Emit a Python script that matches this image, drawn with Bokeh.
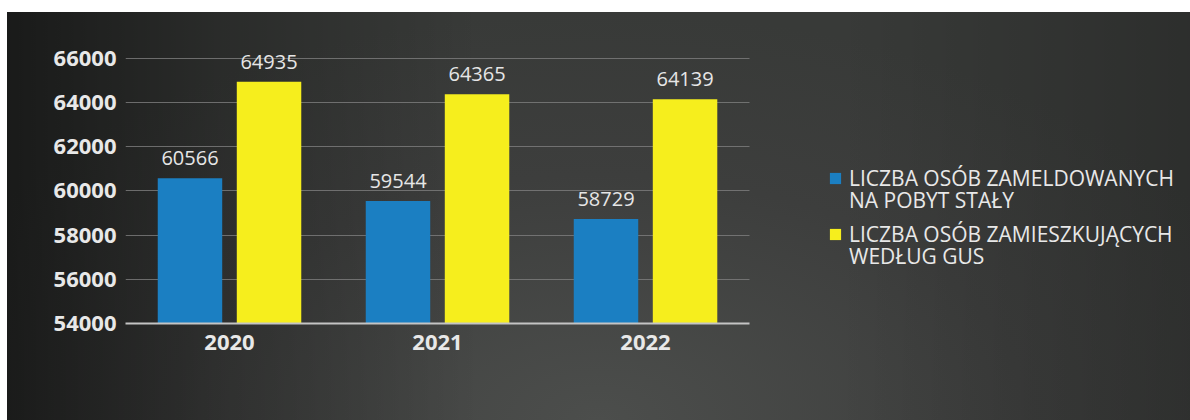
from bokeh.plotting import figure
from bokeh.models import Range1d, FixedTicker, Legend, LegendItem, ColumnDataSource
from bokeh.core.properties import value
from bokeh.embed import file_html
from bokeh.resources import INLINE

years = ["2020", "2021", "2022"]
zameldowani = [60566, 59544, 58729]
gus = [64935, 64365, 64139]
y_ticks = [54000, 56000, 58000, 60000, 62000, 64000, 66000]
series_lines = [["LICZBA OSÓB ZAMELDOWANYCH", "NA POBYT STAŁY"],
                ["LICZBA OSÓB ZAMIESZKUJĄCYCH", "WEDŁUG GUS"]]
colors = ["#1b7fc2", "#f6ee1d"]

idx = list(range(len(years)))
off = 0.19
bw = 0.31
src = ColumnDataSource(dict(
    x1=[i - off for i in idx], x2=[i + off for i in idx],
    zam=zameldowani, gus=gus,
    zam_t=[str(v) for v in zameldowani], gus_t=[str(v) for v in gus],
))

# plot area spans the whole right side so the legend is not clipped;
# the categories occupy x in [-0.5, 2.5]
p = figure(x_range=Range1d(-0.5, 4.62), y_range=Range1d(54000, 66800),
           width=1183, height=408, output_backend="svg", toolbar_location=None,
           min_border_left=118, min_border_right=0, min_border_top=28, min_border_bottom=97)
p.styles = {
    "margin-top": "12px",
    "margin-left": "7px",
    "background": ("linear-gradient(to right, rgba(0,0,0,0.55) 0%, rgba(0,0,0,0.25) 18%, "
                   "rgba(0,0,0,0) 40%, rgba(0,0,0,0) 70%, rgba(0,0,0,0.2) 100%), "
                   "radial-gradient(ellipse 60% 100% at 50% 100%, #4c4e4c 0%, #3d3e3d 60%, #383a38 100%)")
}
p.border_fill_color = None
p.background_fill_color = None
p.outline_line_color = None

r1 = p.vbar(x="x1", top="zam", bottom=54000, width=bw, source=src,
            fill_color=colors[0], line_color=None)
r2 = p.vbar(x="x2", top="gus", bottom=54000, width=bw, source=src,
            fill_color=colors[1], line_color=None)
# empty, invisible renderer used only for the second line of each legend entry
blank = p.vbar(x=[], top=[], width=bw, fill_alpha=0, line_alpha=0)

for xcol, col in (("x1", "zam"), ("x2", "gus")):
    p.text(x=xcol, y=col, text=col + "_t", source=src,
           text_align="center", text_baseline="alphabetic", y_offset=-20,
           text_font=value("Open Sans"), text_font_size="20px", text_color="#e6e6e6")

p.xgrid.grid_line_color = None
p.ygrid.ticker = FixedTicker(ticks=y_ticks)
p.ygrid.grid_line_color = "#7e7e7e"
p.ygrid.grid_line_width = 1
p.ygrid.grid_line_alpha = 0.8
p.ygrid.cross_bounds = (-0.5, 2.5)

p.yaxis.ticker = FixedTicker(ticks=y_ticks)
p.yaxis.axis_line_color = None
p.yaxis.major_tick_line_color = None
p.yaxis.minor_tick_line_color = None
p.yaxis.major_label_standoff = 3
p.yaxis.major_label_text_font = "Open Sans"
p.yaxis.major_label_text_font_style = "bold"
p.yaxis.major_label_text_font_size = "22px"
p.yaxis.major_label_text_color = "#e8e8e8"

p.xaxis.ticker = FixedTicker(ticks=idx)
p.xaxis.major_label_overrides = {i: y for i, y in zip(idx, years)}
p.xaxis.bounds = (-0.5, 2.5)
p.xaxis.axis_line_color = "#c4c4c4"
p.xaxis.axis_line_width = 2
p.xaxis.major_tick_line_color = None
p.xaxis.minor_tick_line_color = None
p.xaxis.major_label_standoff = 5
p.xaxis.major_label_text_font = "Open Sans"
p.xaxis.major_label_text_font_style = "bold"
p.xaxis.major_label_text_font_size = "22px"
p.xaxis.major_label_text_color = "#e8e8e8"

# one single-line legend per text line (glyph on the first line of each entry)
legend_rows = [(series_lines[0][0], r1, 131), (series_lines[0][1], blank, 109),
               (series_lines[1][0], r2, 75), (series_lines[1][1], blank, 53)]
for label, renderer, ypos in legend_rows:
    lg = Legend(items=[LegendItem(label=label, renderers=[renderer])],
                location=(703, ypos), orientation="vertical")
    lg.background_fill_alpha = 0
    lg.border_line_color = None
    lg.padding = 0
    lg.margin = 0
    lg.spacing = 0
    lg.glyph_width = 14
    lg.glyph_height = 14
    lg.label_height = 22
    lg.label_standoff = 7
    lg.label_text_font = "Open Sans"
    lg.label_text_font_size = "21px"
    lg.label_text_color = "#e8e8e8"
    p.add_layout(lg, "center")

open("out.html", "w").write(file_html(p, INLINE))
